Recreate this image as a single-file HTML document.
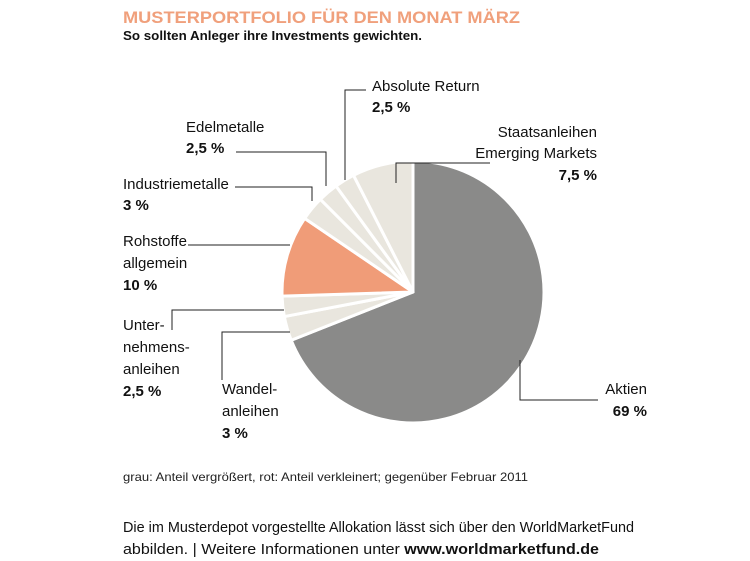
<!DOCTYPE html>
<html><head><meta charset="utf-8"><style>
html,body{margin:0;padding:0;background:#fff;}
svg{display:block;font-family:"Liberation Sans",sans-serif;}
.lbl{font-size:15px;fill:#111;}
.b{font-weight:bold;}
.ld{stroke:#222;stroke-width:1;fill:none;}
</style></head><body>
<svg width="750" height="561" viewBox="0 0 750 561">
<text x="123" y="23" font-size="17" font-weight="bold" fill="#f0a07c" textLength="397" lengthAdjust="spacingAndGlyphs">MUSTERPORTFOLIO FÜR DEN MONAT MÄRZ</text>
<text x="123" y="40" font-size="12.5" font-weight="bold" fill="#111" textLength="299" lengthAdjust="spacingAndGlyphs">So sollten Anleger ihre Investments gewichten.</text>
<g id="pie"></g>
<g>
<polyline class="ld" points="520,360 520,400 598,400"/>
<polyline class="ld" points="290,332 222,332 222,380"/>
<polyline class="ld" points="284,310 172,310 172,330"/>
<polyline class="ld" points="290,245 188,245"/>
<polyline class="ld" points="235,187 312,187 312,201"/>
<polyline class="ld" points="236,152 326,152 326,186"/>
<polyline class="ld" points="366,90 345,90 345,180"/>
<polyline class="ld" points="490,163 396,163 396,183"/>
</g>
<g>
<text class="lbl" x="372" y="91">Absolute Return</text>
<text class="lbl b" x="372" y="112">2,5 %</text>
<text class="lbl" x="186" y="132">Edelmetalle</text>
<text class="lbl b" x="186" y="153">2,5 %</text>
<text class="lbl" x="597" y="137" text-anchor="end">Staatsanleihen</text>
<text class="lbl" x="597" y="158" text-anchor="end">Emerging Markets</text>
<text class="lbl b" x="597" y="180" text-anchor="end">7,5 %</text>
<text class="lbl" x="123" y="189">Industriemetalle</text>
<text class="lbl b" x="123" y="210">3 %</text>
<text class="lbl" x="123" y="246">Rohstoffe</text>
<text class="lbl" x="123" y="268">allgemein</text>
<text class="lbl b" x="123" y="290">10 %</text>
<text class="lbl" x="123" y="330">Unter-</text>
<text class="lbl" x="123" y="352">nehmens-</text>
<text class="lbl" x="123" y="374">anleihen</text>
<text class="lbl b" x="123" y="396">2,5 %</text>
<text class="lbl" x="222" y="394">Wandel-</text>
<text class="lbl" x="222" y="416">anleihen</text>
<text class="lbl b" x="222" y="438">3 %</text>
<text class="lbl" x="647" y="394" text-anchor="end">Aktien</text>
<text class="lbl b" x="647" y="416" text-anchor="end">69 %</text>
</g>
<text x="123" y="481" font-size="12" fill="#222" textLength="405" lengthAdjust="spacingAndGlyphs">grau: Anteil vergrößert, rot: Anteil verkleinert; gegenüber Februar 2011</text>
<text x="123" y="532" font-size="15" fill="#111" textLength="511" lengthAdjust="spacingAndGlyphs">Die im Musterdepot vorgestellte Allokation lässt sich über den WorldMarketFund</text>
<text x="123" y="554" font-size="15" fill="#111" textLength="476" lengthAdjust="spacingAndGlyphs">abbilden. | Weitere Informationen unter <tspan font-weight="bold">www.worldmarketfund.de</tspan></text>
</svg>
<script>
const categories = ["Aktien","Wandelanleihen","Unternehmensanleihen","Rohstoffe allgemein","Industriemetalle","Edelmetalle","Absolute Return","Staatsanleihen Emerging Markets"];
const values = [69,3,2.5,10,3,2.5,2.5,7.5];
const colors = ["#8a8a89","#e9e6de","#e9e6de","#f09c78","#e9e6de","#e9e6de","#e9e6de","#e9e6de"];
const cx=413, cy=292, r=131;
const total = values.reduce((a,b)=>a+b,0);
function pt(frac){const a=frac*2*Math.PI;return [cx+r*Math.sin(a), cy-r*Math.cos(a)];}
const g=document.getElementById('pie');
let acc=0;
values.forEach((v,i)=>{
  const s=acc/total, e=(acc+v)/total; acc+=v;
  const p1=pt(s), p2=pt(e);
  const large=(e-s)>0.5?1:0;
  const path=document.createElementNS('http://www.w3.org/2000/svg','path');
  path.setAttribute('d',`M${cx},${cy} L${p1[0]},${p1[1]} A${r},${r} 0 ${large} 1 ${p2[0]},${p2[1]} Z`);
  path.setAttribute('fill',colors[i]);
  path.setAttribute('stroke','#fff');
  path.setAttribute('stroke-width','3');
  path.setAttribute('stroke-linejoin','round');
  
  
  g.appendChild(path);
});
</script>
</body></html>
